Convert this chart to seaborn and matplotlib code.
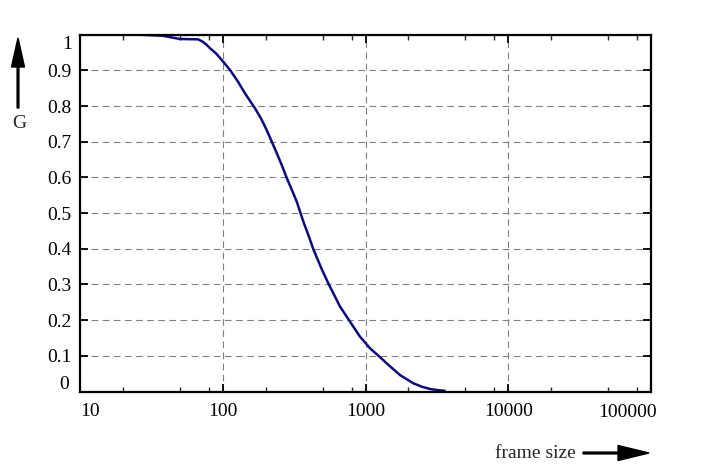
import numpy as np
import pandas as pd
import matplotlib
matplotlib.use("Agg")
import matplotlib.pyplot as plt
import matplotlib.ticker as mticker
from matplotlib.patches import FancyArrow
from matplotlib.transforms import IdentityTransform, ScaledTranslation
import seaborn as sns

# ---- data ----
frame_size = [26, 38, 50, 67, 72, 77, 81, 90, 99, 113, 128, 143, 168, 185, 203,
              220, 239, 260, 281, 305, 330, 367, 400, 431, 490, 549, 663, 778,
              914, 1076, 1250, 1407, 1745, 2164, 2500, 2832, 3200, 3600]
G = [1.0, 0.997, 0.988, 0.987, 0.981, 0.972, 0.963, 0.947, 0.928, 0.900, 0.868,
     0.836, 0.794, 0.766, 0.733, 0.701, 0.668, 0.633, 0.598, 0.565, 0.532,
     0.476, 0.436, 0.399, 0.346, 0.303, 0.238, 0.196, 0.154, 0.121, 0.098,
     0.079, 0.046, 0.023, 0.013, 0.007, 0.004, 0.002]
x_ticks = [10, 100, 1000, 10000, 100000]
x_tick_labels = ["10", "100", "1000", "10000", "100000"]
y_ticks = [0, 0.1, 0.2, 0.3, 0.4, 0.5, 0.6, 0.7, 0.8, 0.9, 1.0]
y_tick_labels = ["0", "0.1", "0.2", "0.3", "0.4", "0.5", "0.6", "0.7", "0.8", "0.9", "1"]

df = pd.DataFrame({"frame size": frame_size, "G": G})

sns.set_style("ticks")
plt.rcParams["font.family"] = ["Liberation Serif", "DejaVu Serif"]
plt.rcParams["xtick.direction"] = "in"
plt.rcParams["ytick.direction"] = "in"
plt.rcParams["xtick.top"] = True
plt.rcParams["ytick.right"] = True

W, H = 703, 472
fig = plt.figure(figsize=(W / 100, H / 100), dpi=100)
ax = fig.add_axes([80 / W, (H - 391.5) / H, (651 - 80) / W, (391.5 - 34.7) / H])

sns.lineplot(data=df, x="frame size", y="G", ax=ax, color="#0c0c7c",
             linewidth=1.8, estimator=None, sort=True)

ax.set_xscale("log")
ax.set_xlim(10, 100000)
ax.set_ylim(0, 1)
ax.set_xticks(x_ticks)
ax.set_xticklabels(x_tick_labels)
ax.xaxis.set_minor_locator(mticker.LogLocator(base=10, subs=[2, 5, 8]))
ax.xaxis.set_minor_formatter(mticker.NullFormatter())
ax.set_yticks(y_ticks)
ax.set_yticklabels(y_tick_labels)
ax.set_xlabel("")
ax.set_ylabel("")

for s in ax.spines.values():
    s.set_linewidth(1.6)
    s.set_color("black")
ax.tick_params(which="major", length=6, width=1.3, labelsize=14, colors="black")
ax.tick_params(which="minor", length=3.5, width=1.0)
ax.tick_params(axis="x", which="major", pad=8)
ax.tick_params(axis="y", which="major", pad=6)

ax.grid(True, which="major", color="#808080", linestyle=(0, (6, 4)), linewidth=0.8)

# shift end labels inward like the reference
xl = ax.get_xticklabels()
xl[0].set_ha("left")
xl[-1].set_ha("right")
xl[-1].set_transform(xl[-1].get_transform() + ScaledTranslation(6 / 100, -1 / 100, fig.dpi_scale_trans))
yl = ax.get_yticklabels()
yl[0].set_transform(yl[0].get_transform() + ScaledTranslation(-3 / 100, 9 / 100, fig.dpi_scale_trans))
yl[-1].set_transform(yl[-1].get_transform() + ScaledTranslation(0, -8 / 100, fig.dpi_scale_trans))

# axis captions with arrows (figure pixel coordinates)
fig.text(19 / W, (H - 123) / H, "G", ha="center", va="center", fontsize=14)
fig.text(576 / W, (H - 453) / H, "frame size", ha="right", va="center", fontsize=14)
fig.add_artist(FancyArrow(18, H - 108, 0, 70, width=1.8, head_width=13,
                          head_length=29, length_includes_head=True,
                          transform=IdentityTransform(), color="black"))
fig.add_artist(FancyArrow(583, H - 453, 66, 0, width=1.8, head_width=15,
                          head_length=31, length_includes_head=True,
                          transform=IdentityTransform(), color="black"))

fig.savefig("out.png", dpi=100)
